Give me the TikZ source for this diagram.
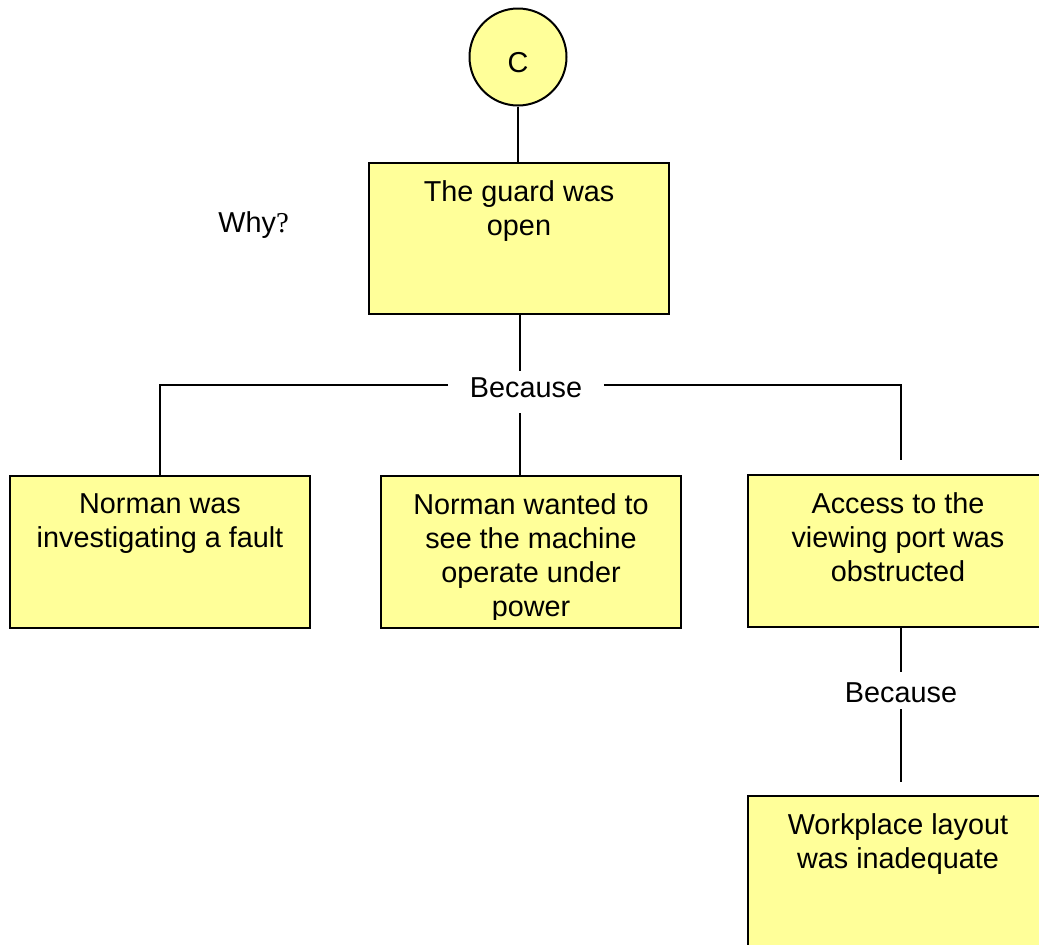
\documentclass[tikz,border=0pt]{standalone}
\usepackage{fontspec}
\setmainfont{Liberation Sans}
\newfontfamily\qfont{Liberation Serif}
\definecolor{boxfill}{HTML}{FFFF99}
\begin{document}
\begin{tikzpicture}[x=0.5pt,y=-0.5pt,
  font=\fontsize{14.4}{17}\selectfont,
  box/.style={draw=black,line width=1pt,fill=boxfill,rectangle,inner sep=0pt,minimum width=150pt,minimum height=76pt,anchor=north west},
  boxtext/.style={anchor=north,align=center,inner sep=0pt},
  conn/.style={draw=black,line width=1pt},
  because/.style={inner ysep=0pt,inner xsep=10.75pt,anchor=base}]
\clip (0,0) rectangle (1039,944);
\fill[white] (0,0) rectangle (1039,944);
% nodes
\node[circle,draw=black,line width=1pt,fill=boxfill,minimum size=48.5pt,inner sep=0pt,text height=15.8pt,text depth=0pt] (circ) at (518,57) {C};
\node[box,minimum height=75.5pt] (top) at (368,162) {};
\node[box] (left) at (9,475) {};
\node[box] (mid) at (380,475) {};
\node[box] (right) at (747,474) {};
\node[box] (bottom) at (747,795) {};
\node[boxtext] (toptxt) at ([yshift=-9pt]top.north) {The guard was\\open};
\node[boxtext] (lefttxt) at ([yshift=-9pt]left.north) {Norman was\\investigating a fault};
\begin{scope}
\clip ([xshift=1pt]mid.north west) rectangle ([yshift=5pt]mid.south east);
\node[boxtext] (midtxt) at ([yshift=-9pt]mid.north) {Norman wanted to\\see the machine\\operate under\\power};
\end{scope}
\node[boxtext] (righttxt) at ([yshift=-9pt]right.north) {Access to the\\viewing port was\\obstructed};
\node[boxtext] (bottomtxt) at ([yshift=-9pt]bottom.north) {Workplace layout\\was inadequate};
\node[anchor=base west,inner sep=0pt] (why) at (218,232) {Why{\qfont ?}};
\node[because,text height=12.8pt,text depth=8pt] (b1) at (526,397) {Because};
\node[because,text height=14.8pt,text depth=3.5pt] (b2) at (901,702) {Because};
\coordinate (j) at (520,385);
\coordinate (rstop) at (901,460);
\coordinate (bstop) at (901,782);
% connectors
\draw[conn] (circ.south) -- (circ.south |- top.north);
\draw[conn] (top.south -| j) -- (j |- b1.north);
\draw[conn] (j |- b1.south) -- (j |- mid.north);
\draw[conn] (b1.west |- j) -| (left.north);
\draw[conn] (b1.east |- j) -| (rstop);
\draw[conn] (right.south -| bstop) -- (b2.north);
\draw[conn] (b2.south) -- (bstop);
\end{tikzpicture}
\end{document}
